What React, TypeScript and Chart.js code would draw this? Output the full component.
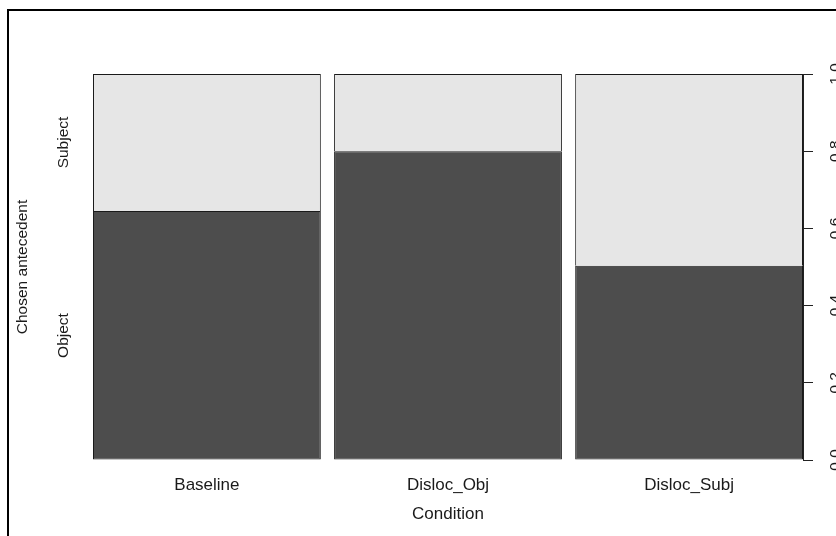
import React, { useEffect, useRef } from 'react';
import { Chart, registerables } from 'chart.js';

Chart.register(...registerables);

// ---- data ----
const categories = ['Baseline', 'Disloc_Obj', 'Disloc_Subj'];
const categoryPositions = [0, 1, 2];
const objectShare = [0.645, 0.8, 0.503];
const subjectShare = [0.355, 0.2, 0.497];
const responseLabels = ['Object', 'Subject'];
const responseLabelPositions = [0.3225, 0.8225];
const rightTickValues = [0, 0.2, 0.4, 0.6, 0.8, 1.0];
const rightTickLabels = ['0.0', '0.2', '0.4', '0.6', '0.8', '1.0'];
const xTitle = 'Condition';
const yTitle = 'Chosen antecedent';

const BAR_PCT = 0.945;
const FONT = '"Liberation Sans", Arial, sans-serif';
const TEXT = '#1a1a1a';

const rotatedLabels = {
  id: 'rotatedLabels',
  afterDraw(chart: any) {
    const ctx = chart.ctx;
    const yR = chart.scales.y;
    const yL = chart.scales.yLeft;
    ctx.save();
    ctx.fillStyle = TEXT;
    ctx.textAlign = 'center';
    ctx.textBaseline = 'alphabetic';
    ctx.font = `15.5px ${FONT}`;
    rightTickValues.forEach((v, i) => {
      const py = yR.getPixelForValue(v);
      ctx.save();
      ctx.translate(yR.left + 37, py);
      ctx.rotate(-Math.PI / 2);
      ctx.fillText(rightTickLabels[i], 0, 0);
      ctx.restore();
    });
    responseLabelPositions.forEach((v, i) => {
      const py = yL.getPixelForValue(v);
      ctx.save();
      ctx.translate(68, py);
      ctx.rotate(-Math.PI / 2);
      ctx.fillText(responseLabels[i], 0, 0);
      ctx.restore();
    });
    ctx.restore();
  },
};

export default function App() {
  const ref = useRef<HTMLCanvasElement>(null);

  useEffect(() => {
    if (!ref.current) return;
    const chart = new Chart(ref.current, {
      type: 'bar',
      data: {
        datasets: [
          {
            label: 'Object',
            data: categoryPositions.map((x, i) => ({ x, y: objectShare[i] })),
            backgroundColor: '#4D4D4D',
            borderColor: '#1a1a1a',
            borderWidth: 1,
            borderSkipped: false,
            categoryPercentage: 1,
            barPercentage: BAR_PCT,
            xAxisID: 'x',
            yAxisID: 'y',
          },
          {
            label: 'Subject',
            data: categoryPositions.map((x, i) => ({ x, y: subjectShare[i] })),
            backgroundColor: '#E6E6E6',
            borderColor: '#1a1a1a',
            borderWidth: { top: 1, left: 1, right: 1, bottom: 0 },
            borderSkipped: false,
            categoryPercentage: 1,
            barPercentage: BAR_PCT,
            xAxisID: 'x',
            yAxisID: 'y',
          },
        ],
      } as any,
      options: {
        responsive: false,
        animation: false,
        devicePixelRatio: 1,
        layout: { padding: { top: 74, left: 0, right: 0, bottom: 0 } },
        plugins: { legend: { display: false }, tooltip: { enabled: false } },
        scales: {
          x: {
            type: 'linear',
            position: 'bottom',
            stacked: true,
            offset: false,
            bounds: 'data',
            min: -BAR_PCT / 2,
            max: 2 + BAR_PCT / 2,
            grid: { display: false, drawTicks: false, offset: false },
            border: { display: false },
            afterBuildTicks: (s: any) => {
              s.ticks = categoryPositions.map((v) => ({ value: v }));
            },
            afterFit: (s: any) => {
              s.height = 76;
            },
            ticks: {
              autoSkip: false,
              maxRotation: 0,
              padding: 15,
              color: TEXT,
              font: { family: FONT, size: 17 },
              callback: (v: any) => {
                const i = categoryPositions.indexOf(Number(v));
                return i >= 0 ? categories[i] : '';
              },
            },
            title: {
              display: true,
              text: xTitle,
              color: TEXT,
              font: { family: FONT, size: 17 },
              padding: { top: 0, bottom: 11 },
            },
          },
          y: {
            type: 'linear',
            position: 'right',
            stacked: true,
            min: 0,
            max: 1,
            grid: {
              display: true,
              drawOnChartArea: false,
              drawTicks: true,
              tickLength: 10,
              color: '#222',
              lineWidth: 1,
            },
            border: { display: true, color: '#222', width: 1 },
            ticks: { display: false, stepSize: 0.2 },
            afterFit: (s: any) => {
              s.width = 33;
            },
          },
          yLeft: {
            type: 'linear',
            position: 'left',
            min: 0,
            max: 1,
            grid: { display: false, drawTicks: false },
            border: { display: false },
            ticks: { display: false },
            afterFit: (s: any) => {
              s.width = 93;
            },
            title: {
              display: true,
              text: yTitle,
              color: TEXT,
              font: { family: FONT, size: 15.5 },
              padding: { top: 13, bottom: 0 },
            },
          },
        },
      } as any,
      plugins: [rotatedLabels],
    });
    return () => chart.destroy();
  }, []);

  return (
    <div
      style={{
        position: 'absolute',
        left: 0,
        top: 0,
        width: 836,
        height: 536,
        overflow: 'hidden',
        background: '#fff',
      }}
    >
      <canvas ref={ref} width={836} height={536} style={{ display: 'block' }} />
      <div
        style={{
          position: 'absolute',
          left: 7,
          top: 9,
          width: 829,
          height: 527,
          borderLeft: '2px solid #000',
          borderTop: '2px solid #000',
          boxSizing: 'border-box',
          pointerEvents: 'none',
        }}
      />
    </div>
  );
}
